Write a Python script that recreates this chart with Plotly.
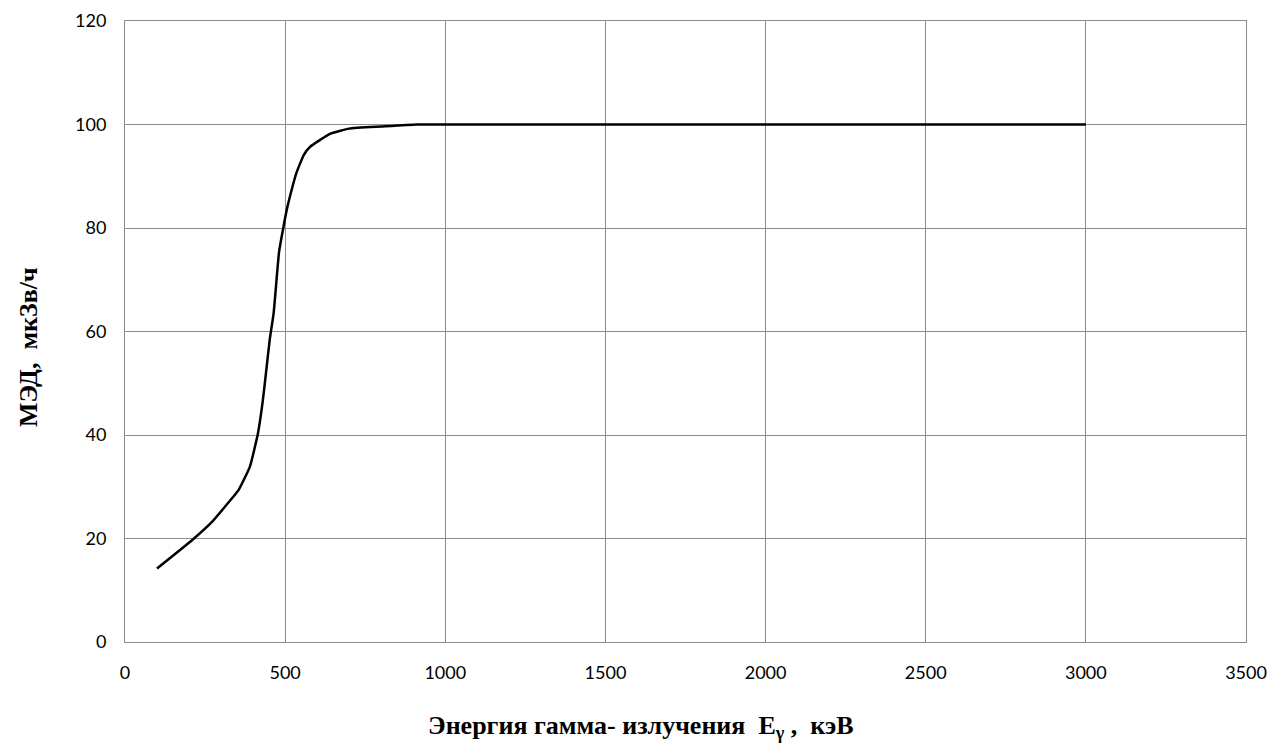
import plotly.graph_objects as go

energy_kev = [100, 210, 270, 325, 355, 390, 415, 430, 440, 452, 464, 481, 495, 505, 520, 535, 558, 578, 640, 700, 800, 910, 1000, 1500, 2000, 2500, 3000]
dose_rate = [14.2, 19.7, 23.1, 27.1, 29.4, 33.9, 40.3, 46.5, 51.9, 58.5, 63.5, 75.4, 80.3, 83.5, 87.3, 90.6, 94.1, 95.7, 98.2, 99.2, 99.6, 100, 100, 100, 100, 100, 100]

x_ticks = [0, 500, 1000, 1500, 2000, 2500, 3000, 3500]
y_ticks = [0, 20, 40, 60, 80, 100, 120]

W, H = 1271, 747
left, right, top, bottom = 125, 1246, 21, 642  # plot area in page pixels

fig = go.Figure()
fig.add_trace(go.Scatter(x=energy_kev, y=dose_rate, mode="lines",
                         line=dict(color="black", width=2.5, shape="spline", smoothing=0.4),
                         showlegend=False, hoverinfo="skip"))

grid = "#8c8c8c"
pw = right - left
ph = bottom - top
fig.update_layout(
    width=W, height=H,
    margin=dict(l=left, r=W - right, t=top, b=H - bottom, pad=0),
    paper_bgcolor="white", plot_bgcolor="white",
    font=dict(family="Lato, Open Sans, sans-serif", size=18, color="black"),
    xaxis=dict(range=[0, 3500], tickvals=x_ticks, showgrid=True, gridcolor=grid, gridwidth=1,
               showline=True, linecolor=grid, linewidth=1, mirror=True, zeroline=False,
               ticks="", ticklabelstandoff=14, tickfont=dict(size=18),
               automargin=False, ticklabeloverflow="allow"),
    yaxis=dict(range=[0, 120], tickvals=y_ticks, showgrid=True, gridcolor=grid, gridwidth=1,
               showline=True, linecolor=grid, linewidth=1, mirror=True, zeroline=False,
               ticks="", ticklabelstandoff=14, tickfont=dict(size=18),
               automargin=False, ticklabeloverflow="allow"),
    annotations=[
        dict(text="<b>Энергия гамма- излучения&nbsp;&nbsp;E<sub>γ</sub> ,&nbsp;&nbsp;кэВ</b>",
             xref="paper", yref="paper",
             x=(641 - left) / pw, y=-(727 - bottom) / ph, xanchor="center", yanchor="middle",
             showarrow=False, font=dict(family="Liberation Serif, Times New Roman, serif", size=26, color="black")),
        dict(text="<b>МЭД,&nbsp;&nbsp;мкЗв/ч</b>", xref="paper", yref="paper",
             x=-(left - 28) / pw, y=(bottom - 347) / ph, xanchor="center", yanchor="middle",
             textangle=-90, showarrow=False,
             font=dict(family="Liberation Serif, Times New Roman, serif", size=26, color="black")),
    ],
)

fig.write_html("out.html", config={"displayModeBar": False},
               post_script="document.body.style.margin='0';document.body.style.overflow='hidden';")
